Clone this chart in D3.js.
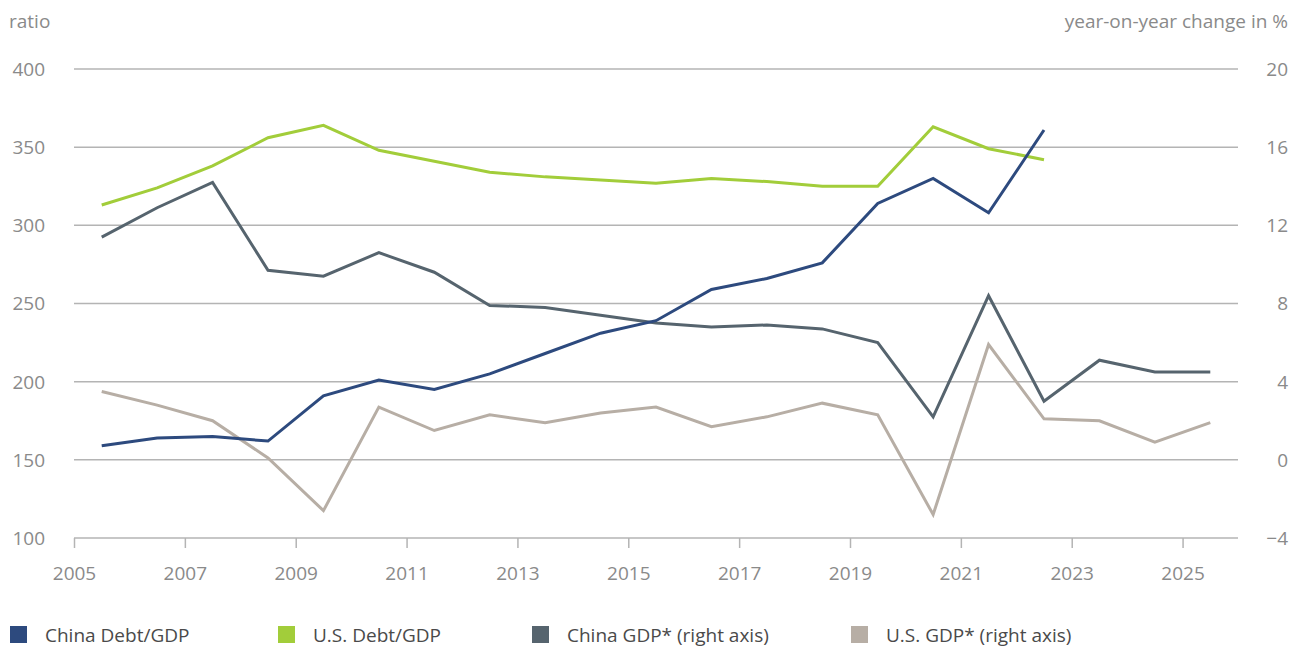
<!DOCTYPE html>
<html><head><meta charset="utf-8">
<script src="https://cdn.jsdelivr.net/npm/d3@7"></script>
<style>
html,body{margin:0;padding:0;background:#fff;}
svg text{font-family:"Open Sans",Roboto,sans-serif;}
</style></head>
<body>
<svg id="chart" width="1305" height="647"></svg>
<script>
const years = [2005.5,2006.5,2007.5,2008.5,2009.5,2010.5,2011.5,2012.5,2013.5,2014.5,2015.5,2016.5,2017.5,2018.5,2019.5,2020.5,2021.5,2022.5,2023.5,2024.5,2025.5];
const chinaDebt = [159,164,165,162,191,201,195,205,218,231,239,259,266,276,314,330,308,361,null,null,null];
const usDebt = [313,324,338,356,364,348,341,334,331,329,327,330,328,325,325,363,349,342,null,null,null];
const chinaGDP = [11.4,12.9,14.2,9.7,9.4,10.6,9.6,7.9,7.8,7.4,7.0,6.8,6.9,6.7,6.0,2.2,8.4,3.0,5.1,4.5,4.5];
const usGDP = [3.5,2.8,2.0,0.1,-2.6,2.7,1.5,2.3,1.9,2.4,2.7,1.7,2.2,2.9,2.3,-2.8,5.9,2.1,2.0,0.9,1.9];
const xTicks = [2005,2007,2009,2011,2013,2015,2017,2019,2021,2023,2025];
const leftTicks = [100,150,200,250,300,350,400];
const rightTicks = [-4,0,4,8,12,16,20];
const seriesNames = ["China Debt/GDP","U.S. Debt/GDP","China GDP* (right axis)","U.S. GDP* (right axis)"];
const seriesColors = ["#2d4a7e","#a2cd3a","#56646e","#b7aea5"];

const svg = d3.select("#chart");
const x = d3.scaleLinear().domain([2005,2026]).range([74,1238]);
const yL = d3.scaleLinear().domain([100,400]).range([538,69]);
const yR = d3.scaleLinear().domain([-4,20]).range([538,69]);
const txt = "#8a8a8a", grid = "#b4b4b4", fs = 19;

// gridlines
svg.append("g").selectAll("line").data(leftTicks.slice(1)).join("line")
  .attr("x1",x(2005)).attr("x2",x(2026)).attr("y1",d=>yL(d)).attr("y2",d=>yL(d))
  .attr("stroke",grid).attr("stroke-width",1.5);

// x axis
const xa = svg.append("g").attr("transform",`translate(0,${yL(100)})`)
  .call(d3.axisBottom(x).tickValues(xTicks).tickFormat(d3.format("d")).tickSize(10).tickPadding(19));
xa.select(".domain").attr("stroke",grid).attr("stroke-width",1.5).attr("d",`M${x(2005)},0H${x(2026)}`);
xa.selectAll(".tick line").attr("stroke",grid).attr("stroke-width",1.5);
xa.selectAll("text").attr("fill",txt).attr("font-size",fs).attr("font-family","Open Sans");

// left axis labels
svg.append("g").selectAll("text").data(leftTicks).join("text")
  .attr("x",45).attr("y",d=>yL(d)).attr("dy","0.36em").attr("text-anchor","end")
  .attr("fill",txt).attr("font-size",fs).text(d=>d);
// right axis labels
svg.append("g").selectAll("text").data(rightTicks).join("text")
  .attr("x",1288).attr("y",d=>yR(d)).attr("dy","0.36em").attr("text-anchor","end")
  .attr("fill",txt).attr("font-size",fs).text(d=>d<0?"\u2212"+Math.abs(d):d);

svg.append("text").attr("x",9).attr("y",28).attr("fill",txt).attr("font-size",fs).text("ratio");
svg.append("text").attr("x",1288).attr("y",28).attr("text-anchor","end").attr("fill",txt).attr("font-size",fs).text("year-on-year change in %");

function drawLine(vals, scale, color){
  const line = d3.line().defined(d=>d[1]!=null).x(d=>x(d[0])).y(d=>scale(d[1]));
  svg.append("path").datum(years.map((y,i)=>[y,vals[i]]))
    .attr("d",line).attr("fill","none").attr("stroke",color).attr("stroke-width",3)
    .attr("stroke-linejoin","miter");
}
drawLine(usGDP, yR, seriesColors[3]);
drawLine(chinaGDP, yR, seriesColors[2]);
drawLine(usDebt, yL, seriesColors[1]);
drawLine(chinaDebt, yL, seriesColors[0]);

// legend
const legX = [10,278,532,851];
const lg = svg.append("g").selectAll("g").data(seriesNames).join("g")
  .attr("transform",(d,i)=>`translate(${legX[i]},626)`);
lg.append("rect").attr("width",17).attr("height",17).attr("fill",(d,i)=>seriesColors[i]);
lg.append("text").attr("x",35).attr("y",9).attr("dy","0.36em").attr("fill","#4a4a4a").attr("font-size",fs).text(d=>d);
</script>
</body></html>
